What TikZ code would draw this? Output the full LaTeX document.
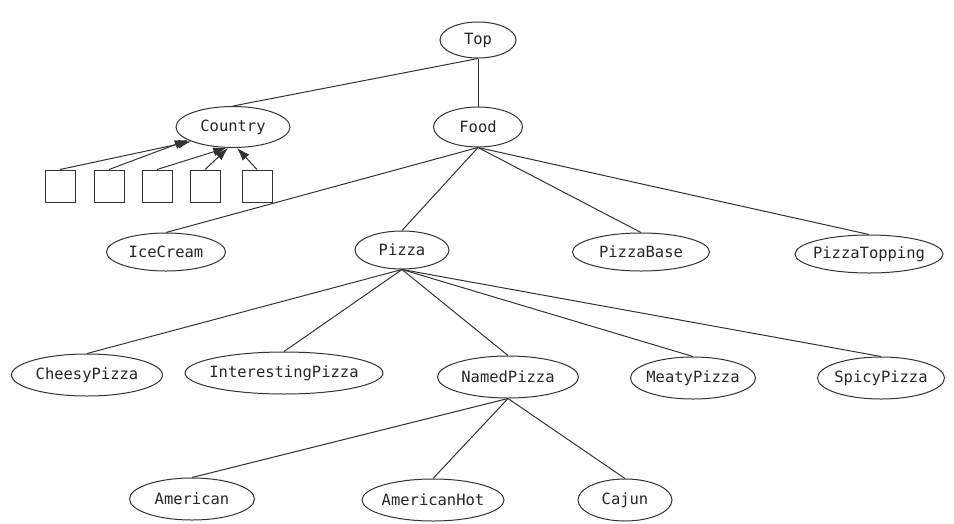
\documentclass[tikz,border=0pt]{standalone}
\usepackage{fontspec}
\setmainfont{DejaVu Sans Mono}
\usetikzlibrary{shapes.geometric,arrows.meta}
\begin{document}
\begin{tikzpicture}[x=1pt,y=-1pt,
  every node/.style={font=\fontsize{15.5}{17}\selectfont, text=black!85},
  cls/.style={ellipse, draw=black!80, line width=1pt, inner xsep=-30pt, inner ysep=-6pt, minimum height=38pt},
  ind/.style={rectangle, draw=black!80, line width=1pt, minimum width=30pt, minimum height=32pt, inner sep=0pt},
  edge/.style={draw=black!80, line width=1pt},
  arr/.style={edge, -{Latex[length=13pt,width=9pt]}}]
\useasboundingbox (0,0) rectangle (954,523);
% classes
\node[cls, minimum width=76pt, minimum height=36pt] (top) at (478,40) {Top};
\node[cls, minimum width=114pt, minimum height=41pt] (country) at (233,127) {Country};
\node[cls, minimum width=89pt, minimum height=40pt] (food) at (478,127) {Food};
\node[cls, minimum width=119pt] (icecream) at (166,252) {IceCream};
\node[cls, minimum width=94pt] (pizza) at (402,250) {Pizza};
\node[cls, minimum width=137pt] (pizzabase) at (641,252) {PizzaBase};
\node[cls, minimum width=148pt] (pizzatopping) at (869,254) {PizzaTopping};
\node[cls, minimum width=151pt, minimum height=42pt] (cheesy) at (87,375) {CheesyPizza};
\node[cls, minimum width=198pt, minimum height=42pt] (interesting) at (284,373) {InterestingPizza};
\node[cls, minimum width=141pt, minimum height=42pt] (named) at (508,377) {NamedPizza};
\node[cls, minimum width=125pt, minimum height=42pt] (meaty) at (693,378) {MeatyPizza};
\node[cls, minimum width=127pt, minimum height=42pt] (spicy) at (881,378) {SpicyPizza};
\node[cls, minimum width=125pt, minimum height=42pt] (american) at (192,499) {American};
\node[cls, minimum width=142pt, minimum height=42pt] (americanhot) at (433,500) {AmericanHot};
\node[cls, minimum width=94pt, minimum height=42pt] (cajun) at (625,500) {Cajun};
% individuals
\node[ind] (b1) at (60,186) {};
\node[ind] (b2) at (109,186) {};
\node[ind] (b3) at (157,186) {};
\node[ind] (b4) at (205,186) {};
\node[ind] (b5) at (257,186) {};
% edges
\draw[edge] (top.south) -- (country.north);
\draw[edge] (top.south) -- (food.north);
\foreach \c in {icecream,pizza,pizzabase,pizzatopping}
  \draw[edge] (food.south) -- (\c.north);
\foreach \c in {cheesy,interesting,named,meaty,spicy}
  \draw[edge] (pizza.south) -- (\c.north);
\foreach \c in {american,americanhot,cajun}
  \draw[edge] (named.south) -- (\c.north);
% membership arrows
\draw[arr] (b1.north) -- (country.199);
\draw[arr] (b2.north) -- (country.196);
\draw[arr] (b3.north) -- (country.252);
\draw[arr] (b4.north) -- (country.257);
\draw[arr] (b5.north) -- (country.281);
\end{tikzpicture}
\end{document}
